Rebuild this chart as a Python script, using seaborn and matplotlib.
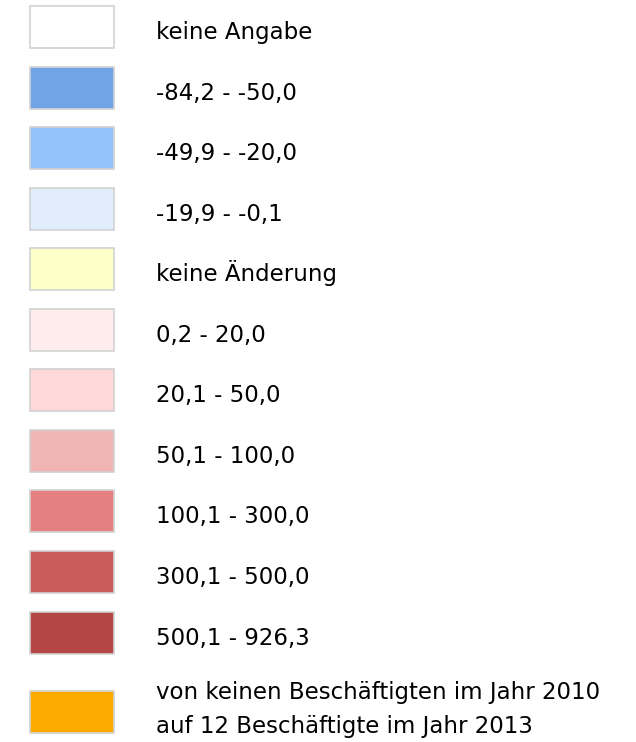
import seaborn as sns
import pandas as pd
from matplotlib import pyplot as plt

# legend classes (change in %, employees 2010 -> 2013)
labels = ["keine Angabe", "-84,2 - -50,0", "-49,9 - -20,0", "-19,9 - -0,1",
          "keine Änderung", "0,2 - 20,0", "20,1 - 50,0", "50,1 - 100,0",
          "100,1 - 300,0", "300,1 - 500,0", "500,1 - 926,3",
          "von keinen Beschäftigten im Jahr 2010\nauf 12 Beschäftigte im Jahr 2013"]
colors = ["#ffffff", "#70a4e6", "#94c3fb", "#e1edfd",
          "#ffffc8", "#ffecec", "#ffd9d9", "#f0b4b4",
          "#e48080", "#cb5c5c", "#b54646", "#ffaa00"]

''' Layout (pixel units) '''
W, H = 636, 742
step = 60.55
ypos = [27 + step * i for i in range(len(labels) - 1)] + [712]
box_w = 84

df = pd.DataFrame({"label": labels, "y": ypos, "w": [box_w] * len(labels)})

sns.set_theme(style="white")
plt.rcParams['font.family'] = ['DejaVu Sans']

fig = plt.figure(figsize=(W / 100, H / 100), dpi=100)
ax = fig.add_axes([0, 0, 1, 1])

sns.barplot(data=df, x="w", y="y", hue="label", hue_order=labels, palette=colors,
            orient="h", native_scale=True, width=42 / step, legend=False,
            saturation=1, edgecolor="#d2d2d2", linewidth=1.2, ax=ax)

fs = 16.5
for lab, y in zip(labels, ypos):
    if "\n" in lab:
        l1, l2 = lab.split("\n")
        ax.text(126, 699, l1, fontsize=fs, color="black", va="baseline")
        ax.text(126, 733, l2, fontsize=fs, color="black", va="baseline")
    else:
        ax.text(126, y + 12, lab, fontsize=fs, color="black", va="baseline")

ax.set_xlim(-30, W - 30)
ax.set_ylim(H, 0)
ax.axis("off")

fig.savefig("out.png", dpi=100)
